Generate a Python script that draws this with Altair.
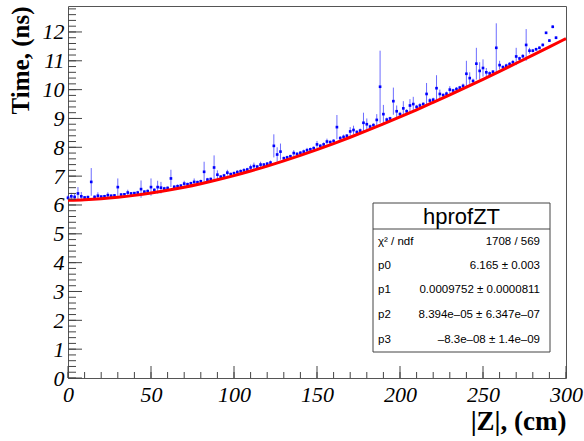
import altair as alt
import pandas as pd

# profile bins (|Z| in cm), mean time (ns), error (ns)
z = list(range(0, 296, 2))
t = [6.25, 6.30, 6.28, 6.40, 6.30, 6.26, 6.27, 6.80, 6.28, 6.32,
     6.29, 6.30, 6.34, 6.32, 6.33, 6.62, 6.36, 6.37, 6.43, 6.40,
     6.41, 6.43, 6.55, 6.46, 6.48, 6.62, 6.52, 6.62, 6.60, 6.57,
     6.59, 6.92, 6.63, 6.65, 6.67, 6.74, 6.72, 6.75, 6.80, 6.79,
     6.82, 7.15, 6.88, 6.90, 7.30, 7.05, 6.98, 7.02, 7.12, 7.07,
     7.10, 7.14, 7.17, 7.20, 7.23, 7.30, 7.35, 7.33, 7.40, 7.40,
     7.43, 7.47, 8.05, 7.75, 7.85, 7.62, 7.65, 7.69, 7.80, 7.77,
     7.81, 7.85, 7.90, 7.93, 7.97, 8.10, 8.05, 8.10, 8.20, 8.18,
     8.22, 8.70, 8.32, 8.36, 8.40, 8.55, 8.60, 8.53, 8.58, 8.85,
     8.80, 8.72, 8.77, 8.95, 10.10, 9.15, 8.96, 9.00, 9.60, 9.25,
     9.15, 9.35, 9.25, 9.45, 9.50, 9.40, 9.45, 9.50, 9.85, 9.62,
     9.65, 10.05, 9.85, 9.81, 9.86, 10.00, 9.97, 10.02, 10.07, 10.13,
     10.55, 10.40, 10.30, 10.90, 10.65, 10.75, 10.60, 10.56, 10.62, 11.45,
     10.85, 10.78, 10.83, 10.89, 10.95, 11.15, 11.08, 11.16, 11.55, 11.35,
     11.35, 11.40, 11.45, 11.55, 11.97, 11.70, 12.18, 11.80]
e = [0.08, 0.12, 0.10, 0.22, 0.15, 0.05, 0.06, 0.48, 0.05, 0.12,
     0.04, 0.05, 0.10, 0.04, 0.05, 0.30, 0.05, 0.04, 0.10, 0.05,
     0.04, 0.06, 0.30, 0.05, 0.06, 0.30, 0.06, 0.22, 0.20, 0.06,
     0.05, 0.30, 0.05, 0.06, 0.05, 0.10, 0.05, 0.06, 0.12, 0.05,
     0.06, 0.35, 0.06, 0.05, 0.42, 0.15, 0.05, 0.06, 0.10, 0.05,
     0.06, 0.07, 0.06, 0.08, 0.06, 0.10, 0.12, 0.06, 0.10, 0.05,
     0.06, 0.07, 0.40, 0.25, 0.28, 0.06, 0.06, 0.05, 0.10, 0.06,
     0.05, 0.07, 0.08, 0.06, 0.06, 0.12, 0.06, 0.07, 0.10, 0.06,
     0.06, 0.42, 0.07, 0.08, 0.06, 0.15, 0.15, 0.06, 0.07, 0.35,
     0.20, 0.07, 0.06, 0.20, 1.25, 0.32, 0.07, 0.06, 0.47, 0.20,
     0.08, 0.25, 0.07, 0.22, 0.25, 0.07, 0.08, 0.06, 0.38, 0.08,
     0.07, 0.45, 0.15, 0.06, 0.07, 0.12, 0.06, 0.07, 0.06, 0.08,
     0.45, 0.20, 0.08, 0.55, 0.30, 0.30, 0.15, 0.07, 0.06, 0.85,
     0.15, 0.06, 0.07, 0.06, 0.08, 0.30, 0.06, 0.07, 0.55, 0.10,
     0.06, 0.05, 0.05, 0.05, 0.04, 0.05, 0.05, 0.05]

# fitted polynomial (pol3) evaluated every 10 cm
fit_z = list(range(0, 310, 10))
fit_t = [6.165, 6.183, 6.217, 6.268, 6.333, 6.413, 6.508, 6.616, 6.738, 6.872,
         7.019, 7.177, 7.347, 7.528, 7.719, 7.920, 8.130, 8.349, 8.576, 8.811,
         9.054, 9.302, 9.559, 9.820, 10.087, 10.358, 10.634, 10.914, 11.197, 11.483,
         11.771]

x_major = [0, 50, 100, 150, 200, 250, 300]
x_minor = list(range(0, 301, 10))
y_major = list(range(0, 13))
y_minor = [round(i * 0.2, 1) for i in range(0, 65)]

stat_names = ["χ² / ndf", "p0", "p1", "p2", "p3"]
stat_vals = ["1708 / 569", "6.165 ± 0.003", "0.0009752 ± 0.0000811",
             "8.394e–05 ± 6.347e–07", "–8.3e–08 ± 1.4e–09"]

W, H = 498, 372
XD = [0, 300]
YD = [0, 12.9]

df = pd.DataFrame({"z": z, "t": t, "e": e})
df["lo"] = df["t"] - df["e"]
df["hi"] = df["t"] + df["e"]
fit = pd.DataFrame({"z": fit_z, "t": fit_t})

xs = alt.Scale(domain=XD, nice=False, zero=False)
ys = alt.Scale(domain=YD, nice=False, zero=False)

lab_font = "Liberation Serif"

xaxis = alt.Axis(values=x_major, ticks=False, tickSize=0, domain=False, grid=False,
                 labelFont=lab_font, labelFontStyle="italic", labelFontSize=22,
                 labelColor="black", labelPadding=6, labelFlush=False,
                 labelOverlap=False,
                 title="|Z|, (cm)", titleFont=lab_font, titleFontSize=27,
                 titleFontWeight="bold", titleColor="black",
                 titleAnchor="end", titleAlign="right", titleX=W,
                 titleBaseline="top", titlePadding=3)
yaxis = alt.Axis(values=y_major, ticks=False, tickSize=0, domain=False, grid=False,
                 labelFont=lab_font, labelFontStyle="italic", labelFontSize=22,
                 labelColor="black", labelPadding=4, labelOverlap=False,
                 labelFlush=False,
                 title="Time, (ns)", titleFont=lab_font, titleFontSize=25,
                 titleFontWeight="bold", titleColor="black",
                 titleAngle=-90, titleAlign="right", titleBaseline="middle",
                 titleX=-48, titleY=0)


def X(f):
    return alt.X(f, type="quantitative", scale=xs, axis=xaxis, title="|Z|, (cm)")


def Y(f):
    return alt.Y(f, type="quantitative", scale=ys, axis=yaxis, title="Time, (ns)")


bars = alt.Chart(df).mark_rule(color="#3b3bff", strokeWidth=1, opacity=0.75).encode(
    x=X("z"), y=Y("lo"), y2="hi:Q",
)
pts = alt.Chart(df).mark_square(color="#0000ff", size=7, opacity=1).encode(
    x=X("z"), y=Y("t"),
)
curve = alt.Chart(fit).mark_line(color="#ff0000", strokeWidth=3, interpolate="monotone").encode(
    x=X("z"), y=Y("t"),
)

tick_col = "#444444"
ymaj = alt.Chart(pd.DataFrame({"v": y_major})).mark_rule(color=tick_col, strokeWidth=1).encode(
    y=Y("v"), x=alt.value(0), x2=alt.value(14))
ymin = alt.Chart(pd.DataFrame({"v": y_minor})).mark_rule(color=tick_col, strokeWidth=1).encode(
    y=Y("v"), x=alt.value(0), x2=alt.value(8))
xmaj = alt.Chart(pd.DataFrame({"v": x_major})).mark_rule(color=tick_col, strokeWidth=1).encode(
    x=X("v"), y=alt.value(H), y2=alt.value(H - 12))
xmin = alt.Chart(pd.DataFrame({"v": x_minor})).mark_rule(color=tick_col, strokeWidth=1).encode(
    x=X("v"), y=alt.value(H), y2=alt.value(H - 6))

one = pd.DataFrame({"a": [0]})
bx0, bx1, by0, by1 = 305, 482, 197, 346
box = alt.Chart(one).mark_rect(fill="white", stroke="#444444", strokeWidth=1).encode(
    x=alt.value(bx0), x2=alt.value(bx1), y=alt.value(by0), y2=alt.value(by1))
divider = alt.Chart(one).mark_rule(color="#444444", strokeWidth=1).encode(
    x=alt.value(bx0), x2=alt.value(bx1), y=alt.value(223))
title_txt = alt.Chart(one).mark_text(text="hprofZT", font="Liberation Sans", fontSize=22,
                                     align="center", baseline="middle", color="black").encode(
    x=alt.value((bx0 + bx1) / 2), y=alt.value(211))

row_y = [236, 260, 284, 309, 334]
stat_layers = []
for nm, vl, ry in zip(stat_names, stat_vals, row_y):
    stat_layers.append(alt.Chart(one).mark_text(
        text=nm, font="Liberation Sans", fontSize=11.5, align="left",
        baseline="middle", color="black").encode(x=alt.value(bx0 + 5), y=alt.value(ry)))
    stat_layers.append(alt.Chart(one).mark_text(
        text=vl, font="Liberation Sans", fontSize=11.5, align="right",
        baseline="middle", color="black").encode(x=alt.value(bx1 - 10), y=alt.value(ry)))

chart = alt.layer(bars, pts, curve, ymaj, ymin, xmaj, xmin,
                  box, divider, title_txt, *stat_layers).properties(
    width=W, height=H,
    autosize=alt.AutoSizeParams(type="none"),
    padding={"left": 68, "top": 6, "right": 18, "bottom": 63},
    background="white",
).configure_view(stroke="#555555", strokeWidth=1)

chart.save("out.html", embed_options={"renderer": "svg", "actions": False})
